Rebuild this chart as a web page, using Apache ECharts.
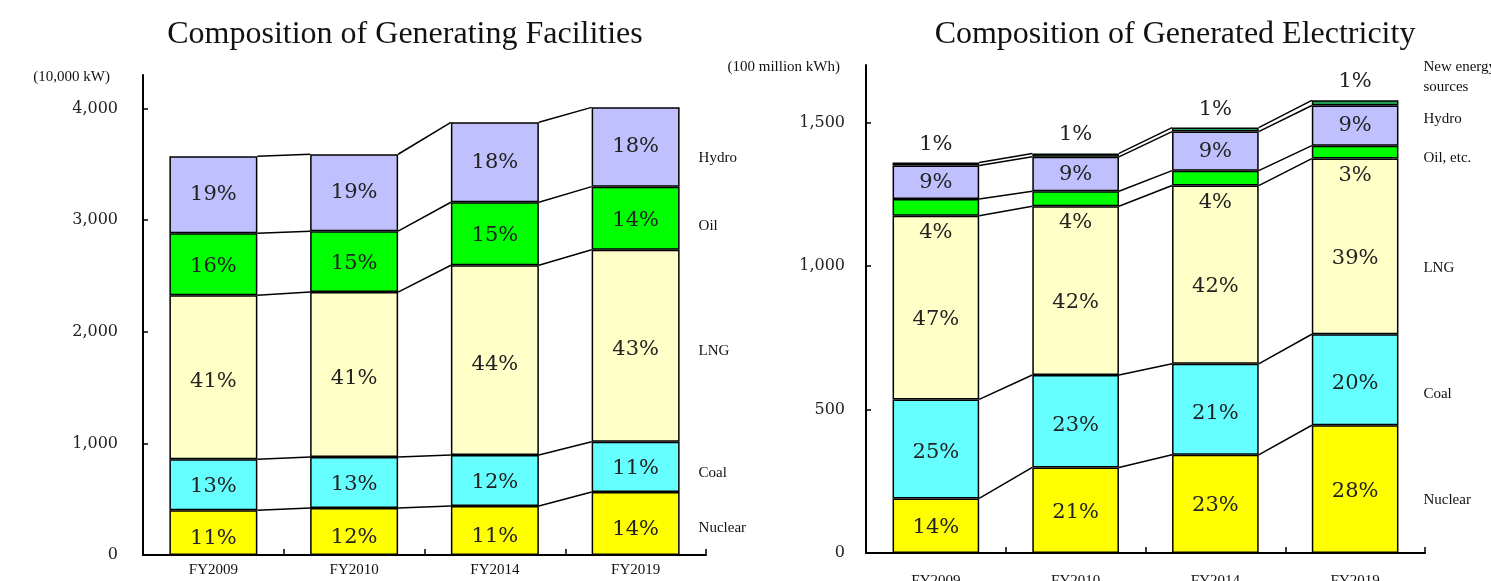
<!DOCTYPE html>
<html><head><meta charset="utf-8">
<script src="https://cdn.jsdelivr.net/npm/echarts@6/dist/echarts.min.js"></script>
<style>html,body{margin:0;padding:0;background:#fff}#c{width:1491px;height:581px}</style>
</head><body><div id="c"></div>
<script>
// ---------- DATA ----------
const categories = ['FY2009', 'FY2010', 'FY2014', 'FY2019'];

// Composition of Generating Facilities (10,000 kW)
const facNames   = ['Nuclear', 'Coal', 'LNG', 'Oil', 'Hydro'];
const facNuclear = [400, 421, 439, 565];
const facCoal    = [458, 456, 456, 450];
const facLNG     = [1470, 1478, 1701, 1720];
const facOil     = [555, 546, 564, 565];
const facHydro   = [689, 689, 716, 710];
const facPctNuclear = ['11%', '12%', '11%', '14%'];
const facPctCoal    = ['13%', '13%', '12%', '11%'];
const facPctLNG     = ['41%', '41%', '44%', '43%'];
const facPctOil     = ['16%', '15%', '15%', '14%'];
const facPctHydro   = ['19%', '19%', '18%', '18%'];
const facTicks = [0, 1000, 2000, 3000, 4000];

// Composition of Generated Electricity (100 million kWh)
const genNames   = ['Nuclear', 'Coal', 'LNG', 'Oil, etc.', 'Hydro', 'New energy\nsources'];
const genNuclear = [190, 298, 342, 445];
const genCoal    = [345, 322, 317, 317];
const genLNG     = [640, 588, 621, 612];
const genOil     = [58, 52, 52, 45];
const genHydro   = [117, 120, 136, 140];
const genNew     = [10, 12, 14, 18];
const genPctNuclear = ['14%', '21%', '23%', '28%'];
const genPctCoal    = ['25%', '23%', '21%', '20%'];
const genPctLNG     = ['47%', '42%', '42%', '39%'];
const genPctOil     = ['4%', '4%', '4%', '3%'];
const genPctHydro   = ['9%', '9%', '9%', '9%'];
const genPctNew     = ['1%', '1%', '1%', '1%'];
const genTicks = [0, 500, 1000, 1500];

// ---------- STYLE / LAYOUT ----------
const SERIF = '"Liberation Serif", "Times New Roman", serif';
const NUMF = '"DejaVu Serif", serif';
const facColors = ['#ffff00', '#66ffff', '#ffffc8', '#00ff00', '#c0c0ff'];
const genColors = ['#ffff00', '#66ffff', '#ffffc8', '#00ff00', '#c0c0ff', '#1f9f4f'];
const BAR_FRAC_L = 0.625, BAR_FRAC_R = 0.62;
const facNameOffsets = [5, 6, 5, 8, 11];
const genNameOffsets = [11, 14, 22, 6, -7, -26];

function levelsOf(arrs) {
  const out = []; let run = categories.map(() => 0);
  arrs.forEach(a => { run = run.map((v, i) => v + a[i]); out.push(run.slice()); });
  return out;
}
const facLevels = levelsOf([facNuclear, facCoal, facLNG, facOil, facHydro]);
const genLevels = levelsOf([genNuclear, genCoal, genLNG, genOil, genHydro, genNew]);

function fmt(v) { return String(v).replace(/\B(?=(\d{3})+(?!\d))/g, ','); }

function barSeries(g, name, data, color, pct, frac, labelOpt) {
  return {
    type: 'bar', name, stack: 'g' + g, xAxisIndex: g, yAxisIndex: g,
    data, barWidth: (frac * 100) + '%',
    itemStyle: { color, borderColor: '#000', borderWidth: 1.5 },
    label: Object.assign({
      show: true, position: 'inside', formatter: p => pct[p.dataIndex],
      fontFamily: NUMF, fontSize: 21, color: '#222'
    }, labelOpt || {}),
    emphasis: { disabled: true }, z: 2
  };
}

function connectorSeries(g, levels, frac) {
  return {
    type: 'custom', xAxisIndex: g, yAxisIndex: g, silent: true, z: 1,
    data: categories.slice(0, -1).map((c, i) => [i, 0]),
    encode: { x: 0, y: 1 },
    renderItem(params, api) {
      const i = api.value(0);
      const hw = api.size([1, 0])[0] * frac / 2;
      return {
        type: 'group',
        children: levels.map(lv => {
          const p1 = api.coord([i, lv[i]]), p2 = api.coord([i + 1, lv[i + 1]]);
          return { type: 'line', shape: { x1: p1[0] + hw, y1: p1[1], x2: p2[0] - hw, y2: p2[1] },
                   style: { stroke: '#000', lineWidth: 1.5 } };
        })
      };
    }
  };
}

function nameSeries(g, levels, names, offsets, frac, gap, fontSize) {
  const last = categories.length - 1;
  return {
    type: 'custom', xAxisIndex: g, yAxisIndex: g, silent: true, z: 3,
    data: [[last, 0]], encode: { x: 0, y: 1 },
    renderItem(params, api) {
      const hw = api.size([1, 0])[0] * frac / 2;
      return {
        type: 'group',
        children: names.map((n, k) => {
          const lo = k === 0 ? 0 : levels[k - 1][last];
          const p = api.coord([last, (lo + levels[k][last]) / 2]);
          return { type: 'text', x: p[0] + hw + gap, y: p[1] + offsets[k],
                   style: { text: n, fill: '#111', font: fontSize + 'px ' + SERIF,
                            align: 'left', verticalAlign: 'middle', lineHeight: 20 } };
        })
      };
    }
  };
}

function xAxis(g, margin) {
  return {
    type: 'category', gridIndex: g, data: categories,
    axisLine: { lineStyle: { color: '#000', width: 2 } },
    axisTick: { show: true, inside: true, length: 6, lineStyle: { color: '#000', width: 1.5 } },
    axisLabel: { fontFamily: SERIF, fontSize: 15, color: '#111', margin }
  };
}
function yAxis(g, max, ticks, name, pad, margin) {
  return {
    type: 'value', gridIndex: g, min: 0, max,
    name, nameLocation: 'end', nameGap: -2,
    nameTextStyle: { fontFamily: SERIF, fontSize: 15, color: '#111', align: 'right',
                     verticalAlign: 'middle', padding: [0, pad, 0, 0] },
    axisLine: { show: true, lineStyle: { color: '#000', width: 2 } },
    axisTick: { show: true, inside: true, length: 5, customValues: ticks, lineStyle: { color: '#000', width: 1.5 } },
    axisLabel: { customValues: ticks, formatter: v => fmt(v), fontFamily: NUMF, fontSize: 16, color: '#222', margin },
    splitLine: { show: false }
  };
}

const facArrs = [facNuclear, facCoal, facLNG, facOil, facHydro];
const facPcts = [facPctNuclear, facPctCoal, facPctLNG, facPctOil, facPctHydro];
const facLabelOpts = [{ offset: [0, 6] }, { offset: [0, 2] }, { offset: [0, 4] }, { offset: [0, 2] }, null];
const genArrs = [genNuclear, genCoal, genLNG, genOil, genHydro, genNew];
const genPcts = [genPctNuclear, genPctCoal, genPctLNG, genPctOil, genPctHydro, genPctNew];
const genLabelOpts = [{ offset: [0, 2] }, { offset: [0, 4] }, { offset: [0, 12] }, { position: 'bottom', distance: 6 }, null, { position: 'top', distance: 8 }];

const series = [];
facArrs.forEach((a, k) => series.push(barSeries(0, facNames[k], a, facColors[k], facPcts[k], BAR_FRAC_L, facLabelOpts[k])));
genArrs.forEach((a, k) => series.push(barSeries(1, genNames[k], a, genColors[k], genPcts[k], BAR_FRAC_R, genLabelOpts[k])));
series.push(connectorSeries(0, facLevels, BAR_FRAC_L));
series.push(connectorSeries(1, genLevels, BAR_FRAC_R));
series.push(nameSeries(0, facLevels, facNames, facNameOffsets, BAR_FRAC_L, 19, 15));
series.push(nameSeries(1, genLevels, genNames, genNameOffsets, BAR_FRAC_R, 25, 15));

const chart = echarts.init(document.getElementById('c'), null, { renderer: 'canvas' });
chart.setOption({
  animation: false,
  backgroundColor: '#fff',
  title: [
    { text: 'Composition of Generating Facilities', left: 400, top: 14, textAlign: 'center',
      textStyle: { fontFamily: SERIF, fontSize: 32, fontWeight: 'normal', color: '#111' } },
    { text: 'Composition of Generated Electricity', left: 1170, top: 14, textAlign: 'center',
      textStyle: { fontFamily: SERIF, fontSize: 32, fontWeight: 'normal', color: '#111' } }
  ],
  grid: [
    { left: 143, top: 75, width: 563, height: 480, outerBoundsMode: 'none', containLabel: false },
    { left: 866, top: 65, width: 559, height: 488, outerBoundsMode: 'none', containLabel: false }
  ],
  xAxis: [xAxis(0, 8), xAxis(1, 21)],
  yAxis: [
    yAxis(0, 4300, facTicks, '(10,000 kW)', 33, 25),
    yAxis(1, 1700, genTicks, '(100 million kWh)', 26, 21)
  ],
  series
});
</script></body></html>
